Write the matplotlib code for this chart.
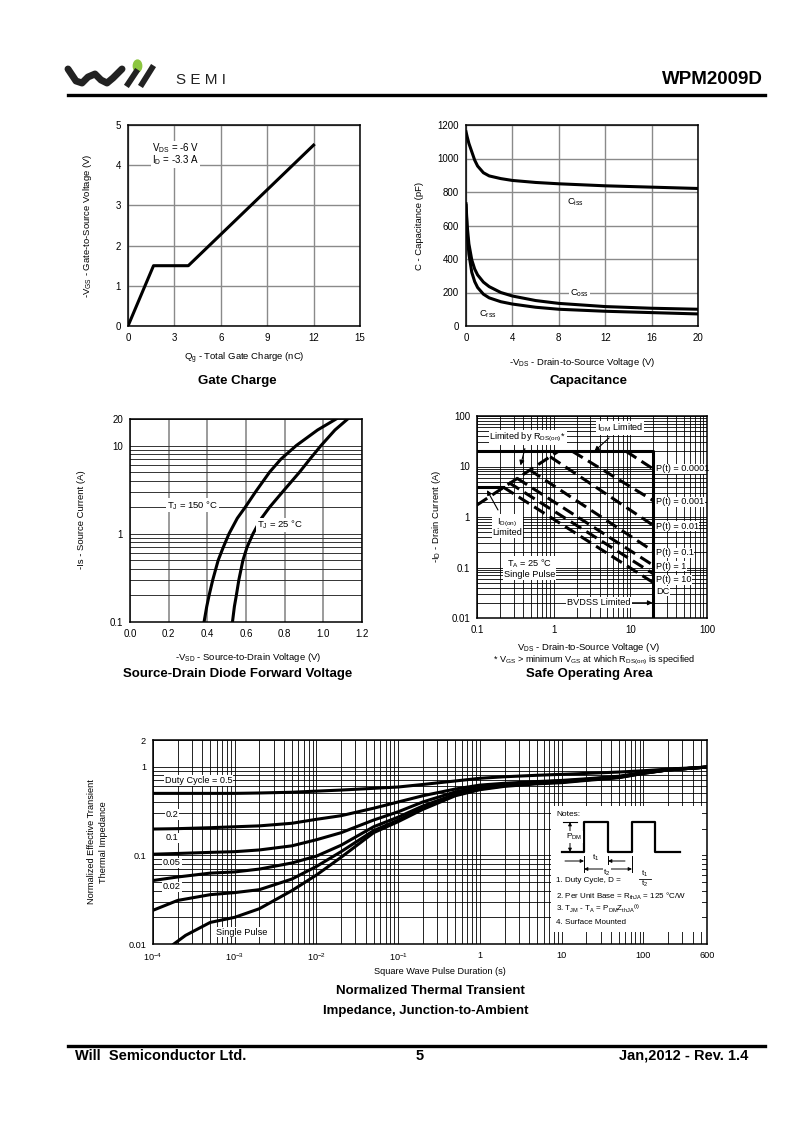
import matplotlib
matplotlib.use("Agg")
import matplotlib.pyplot as plt
from matplotlib import font_manager
from matplotlib.lines import Line2D
from matplotlib.ticker import LogLocator, NullFormatter

gate_q = [0, 1.65, 3.9, 12.0]
gate_v = [0, 1.5, 1.5, 4.5]

cap_v = [0, 0.1, 0.25, 0.5, 0.75, 1, 1.5, 2, 3, 4, 6, 8, 12, 16, 20]
ciss = [1160, 1130, 1090, 1040, 990, 955, 915, 896, 880, 869, 857, 849, 837, 829, 821]
coss = [730, 600, 490, 394, 340, 305, 262, 235, 200, 179, 152, 135, 116, 106, 100]
crss = [720, 560, 430, 320, 265, 230, 190, 168, 145, 131, 112, 100, 88, 80, 72]

sd_i = [0.1, 0.15, 0.2, 0.3, 0.5, 0.7, 1, 1.5, 2, 3, 5, 7, 10, 15, 20]
sd_v150 = [0.383, 0.397, 0.409, 0.428, 0.456, 0.482, 0.512, 0.555, 0.596, 0.65,
           0.722, 0.78, 0.86, 0.97, 1.066]
sd_v25 = [0.53, 0.54, 0.55, 0.563, 0.584, 0.605, 0.636, 0.68, 0.722, 0.79,
          0.877, 0.93, 0.988, 1.06, 1.126]

soa_idm = 20.0
soa_idon = 3.9
soa_bvdss = 20.0
soa_vmin = 0.1
soa_idon_v = 0.22
rds_v = [0.1, 1.15]
rds_i = [1.73, 20.0]
p_labels = ["P(t) = 0.0001", "P(t) = 0.001", "P(t) = 0.01", "P(t) = 0.1",
            "P(t) = 1", "P(t) = 10", "DC"]
p_v0 = [8.8, 1.75, 0.9, 0.49, 0.33, 0.26, 0.22]
p_i0 = [20.0, 20.0, 15.6, 8.5, 5.9, 4.8, 3.9]
p_i1 = [8.9, 2.1, 0.68, 0.21, 0.11, 0.075, 0.05]
p_label_i = [9.0, 2.0, 0.66, 0.195, 0.107, 0.057, 0.034]

th_t = [1e-4, 2e-4, 5e-4, 1e-3, 2e-3, 5e-3, 1e-2, 2e-2, 5e-2, 0.1, 0.2, 0.5,
        1, 2, 5, 10, 20, 50, 100, 200, 600]
th_d05 = [0.50, 0.50, 0.50, 0.50, 0.505, 0.515, 0.53, 0.545, 0.57, 0.59, 0.63,
          0.69, 0.74, 0.77, 0.80, 0.82, 0.84, 0.87, 0.90, 0.94, 0.99]
th_d02 = [0.198, 0.20, 0.205, 0.21, 0.215, 0.23, 0.255, 0.28, 0.34, 0.40, 0.47,
          0.56, 0.62, 0.65, 0.68, 0.70, 0.73, 0.78, 0.86, 0.92, 0.99]
th_d01 = [0.103, 0.105, 0.108, 0.11, 0.115, 0.128, 0.15, 0.18, 0.25, 0.31, 0.40,
          0.52, 0.59, 0.63, 0.67, 0.69, 0.72, 0.77, 0.85, 0.92, 0.99]
th_d005 = [0.052, 0.057, 0.063, 0.065, 0.07, 0.082, 0.098, 0.13, 0.21, 0.27, 0.36,
           0.49, 0.57, 0.62, 0.66, 0.68, 0.71, 0.76, 0.85, 0.92, 0.99]
th_d002 = [0.024, 0.031, 0.036, 0.038, 0.041, 0.054, 0.075, 0.11, 0.19, 0.25, 0.34,
           0.48, 0.56, 0.61, 0.65, 0.67, 0.71, 0.76, 0.84, 0.92, 0.99]
th_ts = [1.8e-4, 2.5e-4, 5e-4, 1e-3, 2e-3, 5e-3, 1e-2, 2e-2, 5e-2, 0.1, 0.2, 0.5,
         1, 2, 5, 10, 20, 50, 100, 200, 600]
th_single = [0.010, 0.0125, 0.0175, 0.020, 0.025, 0.040, 0.060, 0.095, 0.18, 0.24,
             0.33, 0.47, 0.55, 0.60, 0.64, 0.66, 0.70, 0.75, 0.84, 0.92, 0.99]
th_xticks = [1e-4, 1e-3, 1e-2, 1e-1, 1, 10, 100, 600]
th_xlabels = ["10$^{-4}$", "10$^{-3}$", "10$^{-2}$", "10$^{-1}$", "1", "10", "100", "600"]

W, H = 800, 1132
LW = 2.2

names = {f.name for f in font_manager.fontManager.ttflist}
NARROW = "Liberation Sans Narrow" if "Liberation Sans Narrow" in names else "Liberation Sans"

plt.rcParams["font.family"] = ["Liberation Sans", "DejaVu Sans"]
plt.rcParams["mathtext.fontset"] = "custom"
plt.rcParams["mathtext.rm"] = "Liberation Sans"
plt.rcParams["mathtext.it"] = "Liberation Sans:italic"
plt.rcParams["mathtext.bf"] = "Liberation Sans:bold"
plt.rcParams["mathtext.default"] = "regular"

fig = plt.figure(figsize=(W / 100, H / 100), dpi=100)
WHITE = dict(facecolor="white", edgecolor="none", pad=0.6)


def box(l, t, r, b):
    return [l / W, 1 - b / H, (r - l) / W, (b - t) / H]


def ftext(x, y, s, **kw):
    fig.text(x / W, 1 - y / H, s, **kw)


def fline(xs, ys, **kw):
    fig.add_artist(Line2D([x / W for x in xs], [1 - y / H for y in ys],
                          transform=fig.transFigure, **kw))


def frame(ax, size=7):
    for s in ax.spines.values():
        s.set_linewidth(1.1)
        s.set_zorder(5)
    ax.tick_params(which="both", length=0, labelsize=size, pad=5)
    ax.set_axisbelow(True)


def page():
    fline([68, 76, 82, 88, 95, 101, 107, 113, 122],
          [69, 81, 83, 77, 74, 80, 83, 78, 69], color="#222222", lw=5,
          solid_capstyle="round", solid_joinstyle="round")
    fline([128, 136], [84, 72], color="#222222", lw=4.2)
    fline([142, 152], [84, 68], color="#222222", lw=4.2)
    fig.add_artist(plt.Circle((137.5 / W, 1 - 66 / H), 4.2 / W,
                              transform=fig.transFigure, color="#8cc63f"))
    ftext(176, 80, "S E M I", fontsize=11, va="center", color="#222222")
    ftext(763, 80, "WPM2009D", fontsize=13.5, fontweight="bold",
          ha="right", va="center", family=NARROW)
    fline([68, 765], [95, 95], color="black", lw=2.4)

    fline([68, 765], [1046, 1046], color="black", lw=2.4)
    ftext(75, 1056, "Will  Semiconductor Ltd.", fontsize=10.5,
          fontweight="bold", va="center", family=NARROW)
    ftext(420, 1056, "5", fontsize=10.5, fontweight="bold", ha="center",
          va="center", family=NARROW)
    ftext(748, 1056, "Jan,2012 - Rev. 1.4", fontsize=10.5, fontweight="bold",
          ha="right", va="center", family=NARROW)


def gate_charge():
    ax = fig.add_axes(box(128, 125, 360, 326))
    ax.plot(gate_q, gate_v, color="black", lw=LW, zorder=3)
    ax.set_xlim(0, 15)
    ax.set_ylim(0, 5)
    ax.set_xticks(range(0, 16, 3))
    ax.set_yticks(range(0, 6))
    ax.grid(color="#8a8a8a", lw=1.0)
    frame(ax)
    ax.text(1.55, 4.42, "V$_{DS}$ = -6 V", fontsize=7, va="center", bbox=WHITE)
    ax.text(1.55, 4.12, "I$_D$ = -3.3 A", fontsize=7, va="center", bbox=WHITE)
    ftext(244, 358, "Q$_g$ - Total Gate Charge (nC)", fontsize=6.8, ha="center", va="center")
    ftext(88, 226, "-V$_{GS}$ - Gate-to-Source Voltage (V)", fontsize=6.8,
          ha="center", va="center", rotation=90)
    ftext(237, 381, "Gate Charge", fontsize=9.5, fontweight="bold", ha="center", va="center")


def capacitance():
    ax = fig.add_axes(box(466, 125, 698, 326))
    for c in (ciss, coss, crss):
        ax.plot(cap_v, c, color="black", lw=LW, zorder=3)
    ax.set_xlim(0, 20)
    ax.set_ylim(0, 1200)
    ax.set_xticks(range(0, 21, 4))
    ax.set_yticks(range(0, 1201, 200))
    ax.grid(color="#8a8a8a", lw=1.0)
    frame(ax)
    ax.text(9.4, 740, "C$_{iss}$", fontsize=6.8, ha="center", va="center", bbox=WHITE)
    ax.text(9.8, 197, "C$_{oss}$", fontsize=6.8, ha="center", va="center", bbox=WHITE)
    ax.text(1.9, 72, "C$_{rss}$", fontsize=6.8, ha="center", va="center", bbox=WHITE)
    ftext(582, 362, "-V$_{DS}$ - Drain-to-Source Voltage (V)", fontsize=6.8,
          ha="center", va="center")
    ftext(420, 226, "C - Capacitance (pF)", fontsize=6.8, ha="center",
          va="center", rotation=90)
    ftext(589, 381, "Capacitance", fontsize=9.5, fontweight="bold", ha="center", va="center")


def source_drain():
    ax = fig.add_axes(box(130, 419, 362, 622))
    ax.set_yscale("log")
    ax.plot(sd_v150, sd_i, color="black", lw=LW, zorder=3)
    ax.plot(sd_v25, sd_i, color="black", lw=LW, zorder=3)
    ax.set_xlim(0, 1.2)
    ax.set_ylim(0.1, 20)
    ax.set_xticks([0.0, 0.2, 0.4, 0.6, 0.8, 1.0, 1.2])
    ax.set_xticklabels(["0.0", "0.2", "0.4", "0.6", "0.8", "1.0", "1.2"])
    ax.set_yticks([0.1, 1, 10, 20])
    ax.set_yticklabels(["0.1", "1", "10", "20"])
    ax.yaxis.set_minor_locator(LogLocator(base=10, subs=range(2, 10)))
    ax.yaxis.set_minor_formatter(NullFormatter())
    ax.grid(axis="x", color="#8a8a8a", lw=1.2)
    ax.grid(axis="y", which="both", color="#333333", lw=0.7)
    frame(ax)
    ax.text(0.455, 2.1, "T$_J$ = 150 °C", fontsize=6.8, ha="right", va="center", bbox=WHITE)
    ax.text(0.655, 1.25, "T$_J$ = 25 °C", fontsize=6.8, ha="left", va="center", bbox=WHITE)
    ftext(248, 657, "-V$_{SD}$ - Source-to-Drain Voltage (V)", fontsize=6.8,
          ha="center", va="center")
    ftext(82, 520, "-Is - Source Current (A)", fontsize=6.8, ha="center",
          va="center", rotation=90)
    ftext(238, 674, "Source-Drain Diode Forward Voltage", fontsize=9.5,
          fontweight="bold", ha="center", va="center")


def safe_operating_area():
    ax = fig.add_axes(box(477, 416, 707, 618))
    ax.set_xscale("log")
    ax.set_yscale("log")
    ax.set_xlim(0.1, 100)
    ax.set_ylim(0.01, 100)
    ax.plot([soa_vmin, soa_bvdss, soa_bvdss], [soa_idm, soa_idm, 0.0105],
            color="black", lw=LW, zorder=3)
    ax.plot([soa_vmin, soa_idon_v], [soa_idon, soa_idon], color="black", lw=LW, zorder=3)
    ax.plot(rds_v, rds_i, color="black", lw=LW, ls=(0, (4, 2)), zorder=3)
    for v0, i0, i1 in zip(p_v0, p_i0, p_i1):
        ax.plot([v0, soa_bvdss], [i0, i1], color="black", lw=LW,
                ls=(0, (4, 2)), zorder=3)
    for lab, yi in zip(p_labels, p_label_i):
        ax.text(21.5, yi, lab, fontsize=6.6, ha="left", va="center",
                bbox=dict(facecolor="white", edgecolor="none", pad=0.3), zorder=4)
    ax.set_xticks([0.1, 1, 10, 100])
    ax.set_xticklabels(["0.1", "1", "10", "100"])
    ax.set_yticks([0.01, 0.1, 1, 10, 100])
    ax.set_yticklabels(["0.01", "0.1", "1", "10", "100"])
    ax.xaxis.set_minor_formatter(NullFormatter())
    ax.yaxis.set_minor_formatter(NullFormatter())
    ax.grid(which="both", color="black", lw=0.6)
    frame(ax)
    arrow = dict(arrowstyle="-|>", color="black", lw=0.8, mutation_scale=7,
                 shrinkA=3, shrinkB=0)
    ax.annotate("Limited by R$_{DS(on)}$*", xy=(0.37, 10.5), xytext=(0.46, 38),
                fontsize=6.6, ha="center", va="center", bbox=WHITE,
                arrowprops=arrow, zorder=4)
    ax.annotate("I$_{DM}$ Limited", xy=(3.4, 20), xytext=(7.3, 58),
                fontsize=6.6, ha="center", va="center", bbox=WHITE,
                arrowprops=arrow, zorder=4)
    ax.annotate("I$_{D(on)}$\nLimited", xy=(0.135, 3.4), xytext=(0.25, 0.63),
                fontsize=6.6, ha="center", va="center", bbox=WHITE,
                linespacing=0.9, arrowprops=arrow, zorder=4)
    ax.text(0.49, 0.095, "T$_A$ = 25 °C\nSingle Pulse", fontsize=6.6,
            ha="center", va="center", bbox=WHITE, linespacing=1.0, zorder=4)
    ax.annotate("BVDSS Limited", xy=(19.5, 0.02), xytext=(3.9, 0.02),
                fontsize=6.6, ha="center", va="center", bbox=WHITE,
                arrowprops=dict(arrowstyle="-|>", color="black", lw=0.8,
                                mutation_scale=7, shrinkA=25, shrinkB=0), zorder=4)
    ftext(589, 647, "V$_{DS}$ - Drain-to-Source Voltage (V)", fontsize=6.8,
          ha="center", va="center")
    ftext(594, 660, "* V$_{GS}$ > minimum V$_{GS}$ at which R$_{DS(on)}$ is specified",
          fontsize=6.6, ha="center", va="center")
    ftext(436, 516, "-I$_D$ - Drain Current (A)", fontsize=6.8, ha="center",
          va="center", rotation=90)
    ftext(589, 674, "Safe Operating Area", fontsize=9.5, fontweight="bold",
          ha="center", va="center")


def thermal():
    ax = fig.add_axes(box(153, 740, 707, 944))
    ax.set_xscale("log")
    ax.set_yscale("log")
    ax.set_xlim(1e-4, 600)
    ax.set_ylim(0.01, 2)
    for z in (th_d05, th_d02, th_d01, th_d005, th_d002):
        ax.plot(th_t, z, color="black", lw=LW, zorder=3)
    ax.plot(th_ts, th_single, color="black", lw=LW, zorder=3)
    ax.set_xticks(th_xticks)
    ax.set_xticklabels(th_xlabels)
    ax.set_yticks([0.01, 0.1, 1, 2])
    ax.set_yticklabels(["0.01", "0.1", "1", "2"])
    ax.xaxis.set_minor_locator(LogLocator(base=10, subs=range(2, 10), numticks=20))
    ax.xaxis.set_minor_formatter(NullFormatter())
    ax.yaxis.set_minor_formatter(NullFormatter())
    ax.grid(which="both", color="black", lw=0.6)
    frame(ax, size=6.6)
    ax.text(1.4e-4, 0.70, "Duty Cycle = 0.5", fontsize=6.6, ha="left", va="center", bbox=WHITE)
    ax.text(1.7e-4, 0.29, "0.2", fontsize=6.6, ha="center", va="center", bbox=WHITE)
    ax.text(1.7e-4, 0.157, "0.1", fontsize=6.6, ha="center", va="center", bbox=WHITE)
    ax.text(1.7e-4, 0.082, "0.05", fontsize=6.6, ha="center", va="center", bbox=WHITE)
    ax.text(1.7e-4, 0.044, "0.02", fontsize=6.6, ha="center", va="center", bbox=WHITE)
    ax.text(1.2e-3, 0.0136, "Single Pulse", fontsize=6.6, ha="center", va="center", bbox=WHITE)
    ftext(440, 971, "Square Wave Pulse Duration (s)", fontsize=6.6, ha="center", va="center")
    ftext(92, 842, "Normalized Effective Transient", fontsize=6.6, ha="center",
          va="center", rotation=90)
    ftext(104, 842, "Thermal Impedance", fontsize=6.6, ha="center",
          va="center", rotation=90)
    ftext(430, 991, "Normalized Thermal Transient", fontsize=9.5,
          fontweight="bold", ha="center", va="center")
    ftext(426, 1011, "Impedance, Junction-to-Ambient", fontsize=9.5,
          fontweight="bold", ha="center", va="center")

    # notes inset, drawn in its own pixel space
    nx = fig.add_axes(box(551, 806, 702, 932))
    nx.set_xlim(551, 702)
    nx.set_ylim(932, 806)
    nx.set_xticks([])
    nx.set_yticks([])
    for s in nx.spines.values():
        s.set_visible(False)
    nx.set_facecolor("white")
    nx.plot([562, 584, 584, 608, 608, 632, 632, 655, 655, 680],
            [852, 852, 822, 822, 852, 852, 822, 822, 852, 852], color="black", lw=1.6)
    nx.plot([563, 577], [822, 822], color="black", lw=0.8)
    both = dict(arrowstyle="<|-|>", color="black", lw=0.7, mutation_scale=5,
                shrinkA=0, shrinkB=0)
    one = dict(arrowstyle="-|>", color="black", lw=0.7, mutation_scale=5,
               shrinkA=0, shrinkB=0)
    nx.annotate("", xy=(570, 822), xytext=(570, 852), arrowprops=both)
    nx.text(566, 837, "P$_{DM}$", fontsize=6, ha="left", va="center",
            bbox=dict(facecolor="white", edgecolor="none", pad=0.3))
    nx.annotate("", xy=(584, 861), xytext=(565, 861), arrowprops=one)
    nx.annotate("", xy=(608, 861), xytext=(625, 861), arrowprops=one)
    nx.plot([584, 584], [856, 872], color="black", lw=0.7)
    nx.plot([608, 608], [856, 864], color="black", lw=0.7)
    nx.plot([632, 632], [856, 872], color="black", lw=0.7)
    nx.annotate("", xy=(584, 869), xytext=(632, 869), arrowprops=both)
    nx.text(596, 858, "t$_1$", fontsize=6, ha="center", va="center")
    nx.text(607, 873, "t$_2$", fontsize=6, ha="center", va="center",
            bbox=dict(facecolor="white", edgecolor="none", pad=0.2))
    nx.text(556, 815, "Notes:", fontsize=6, ha="left", va="center")
    nx.text(556, 881, "1. Duty Cycle, D =", fontsize=5.8, ha="left", va="center")
    nx.text(645, 874, "t$_1$", fontsize=5.8, ha="center", va="center")
    nx.plot([639, 651], [879, 879], color="black", lw=0.6)
    nx.text(645, 884, "t$_2$", fontsize=5.8, ha="center", va="center")
    nx.text(556, 896, "2. Per Unit Base = R$_{thJA}$ = 125 °C/W", fontsize=5.8,
            ha="left", va="center")
    nx.text(556, 909, "3. T$_{JM}$ - T$_A$ = P$_{DM}$Z$_{thJA}$$^{(t)}$", fontsize=5.8,
            ha="left", va="center")
    nx.text(556, 922, "4. Surface Mounted", fontsize=5.8, ha="left", va="center")


def main():
    page()
    gate_charge()
    capacitance()
    source_drain()
    safe_operating_area()
    thermal()
    fig.savefig("out.png", dpi=100, facecolor="white")


if __name__ == "__main__":
    main()
